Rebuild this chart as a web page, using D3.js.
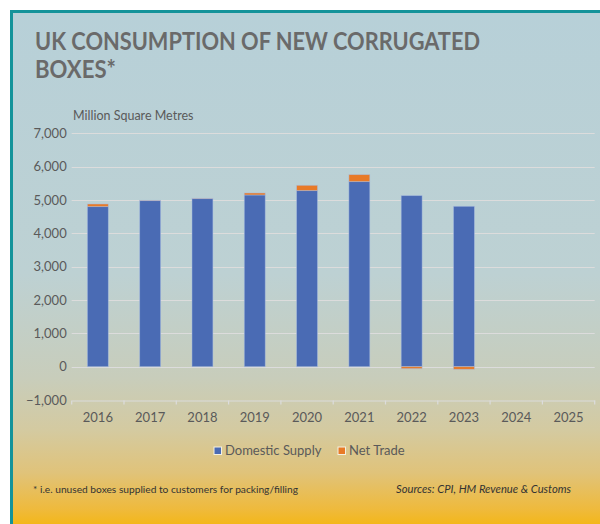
<!DOCTYPE html>
<html>
<head>
<meta charset="utf-8">
<script src="https://cdn.jsdelivr.net/npm/d3@7"></script>
<style>
  html, body { margin: 0; padding: 0; background: #ffffff; }
  svg { display: block; }
</style>
</head>
<body>
<svg id="chart" width="600" height="524"></svg>
<script>
// Years shown on the category axis (2024 and 2025 have no data yet)
const years = ["2016", "2017", "2018", "2019", "2020", "2021", "2022", "2023", "2024", "2025"];
// Million square metres
const domesticSupply = [4800, 4980, 5040, 5150, 5280, 5550, 5130, 4810, null, null];
const netTrade = [80, 10, 10, 60, 160, 210, -60, -80, null, null];
const seriesNames = ["Domestic Supply", "Net Trade"];
const seriesColors = ["#4a6bb4", "#e87a27"];
const yTicks = [-1000, 0, 1000, 2000, 3000, 4000, 5000, 6000, 7000];

const svg = d3.select("#chart");
const W = 600, H = 524;

// Panel background: blue-grey fading to amber
const defs = svg.append("defs");
const grad = defs.append("linearGradient").attr("id", "bg").attr("x1", 0).attr("y1", 0).attr("x2", 0).attr("y2", 1);
[[0, "#b7d0d8"], [0.5, "#bdd1d3"], [0.7, "#c8cdbb"], [0.8, "#d4caa0"], [0.88, "#e0c37a"], [0.95, "#efba3c"], [1, "#f7b500"]]
  .forEach(([o, c]) => grad.append("stop").attr("offset", o).attr("stop-color", c));

svg.append("rect").attr("x", 11.5).attr("y", 11.5).attr("width", W).attr("height", H)
  .attr("fill", "url(#bg)").attr("stroke", "#14939a").attr("stroke-width", 3);

// Title
const title = svg.append("g").attr("font-family", "Lato, 'Open Sans', sans-serif")
  .attr("font-weight", 700).attr("fill", "#6a6a6a").attr("font-size", 24);
title.append("text").attr("x", 35).attr("y", 50).attr("textLength", 445)
  .attr("lengthAdjust", "spacingAndGlyphs").text("UK CONSUMPTION OF NEW CORRUGATED");
title.append("text").attr("x", 35).attr("y", 77.5).attr("textLength", 81)
  .attr("lengthAdjust", "spacingAndGlyphs").text("BOXES*");

// Plot scales
const x = d3.scaleBand().domain(years).range([71.7, 594.7]).paddingInner(0.6).paddingOuter(0.3);
const y = d3.scaleLinear().domain([-1000, 7000]).range([400, 133.3]);

const font = "Lato, 'Open Sans', sans-serif";
const textCol = "#5a5a5a";

// Unit label
svg.append("text").attr("x", 73).attr("y", 119.5).attr("font-family", font)
  .attr("font-size", 12.5).attr("fill", textCol).text("Million Square Metres");

// Horizontal gridlines
svg.append("g").selectAll("line").data(yTicks.filter(t => t !== -1000)).join("line")
  .attr("x1", 71.7).attr("x2", 594.7)
  .attr("y1", d => Math.round(y(d)) + 0.5).attr("y2", d => Math.round(y(d)) + 0.5)
  .attr("stroke", "#dcdcdc").attr("stroke-width", 1.2);

// Y axis labels
const yAxis = d3.axisLeft(y).tickValues(yTicks).tickSize(0).tickPadding(5)
  .tickFormat(d3.format(","));
svg.append("g").attr("transform", "translate(71.7,0)").call(yAxis)
  .call(g => g.select(".domain").remove())
  .call(g => g.selectAll("text").attr("font-family", font).attr("font-size", 13).attr("fill", textCol));

// X axis at the bottom of the value range
const xAxis = d3.axisBottom(x).tickSize(0).tickPadding(12);
const xg = svg.append("g").attr("transform", `translate(0,${y(-1000) + 0.5})`).call(xAxis);
xg.select(".domain").attr("stroke", "#dcdcdc").attr("stroke-width", 1.2);
xg.selectAll("text").attr("font-family", font).attr("font-size", 13).attr("fill", textCol);
// Category boundary ticks
const step = x.step();
const bounds = d3.range(years.length + 1).map(i => 71.7 + i * step);
xg.append("g").selectAll("line").data(bounds).join("line")
  .attr("x1", d => d).attr("x2", d => d).attr("y1", 0).attr("y2", 4)
  .attr("stroke", "#dcdcdc").attr("stroke-width", 1.2);

// Stacked bars (negative net trade drawn below zero)
const rows = years.map((yr, i) => ({ year: yr, "Domestic Supply": domesticSupply[i], "Net Trade": netTrade[i] }))
  .filter(r => r["Domestic Supply"] !== null);
const stack = d3.stack().keys(seriesNames).offset(d3.stackOffsetDiverging);
const layers = stack(rows);

svg.append("g").selectAll("g").data(layers).join("g")
  .attr("fill", (d, i) => seriesColors[i])
  .selectAll("rect").data(d => d).join("rect")
  .attr("x", d => x(d.data.year))
  .attr("width", x.bandwidth())
  .attr("y", d => y(Math.max(d[0], d[1])))
  .attr("height", d => Math.abs(y(d[0]) - y(d[1])))
  .attr("stroke", "rgba(170,190,225,0.6)").attr("stroke-width", 0.8);

// Legend
const legend = svg.append("g").attr("font-family", font).attr("font-size", 13).attr("fill", textCol);
const legendItems = [{ x: 214, tx: 225 }, { x: 338, tx: 349 }];
seriesNames.forEach((name, i) => {
  legend.append("rect").attr("x", legendItems[i].x).attr("y", 447).attr("width", 7.5).attr("height", 7.5)
    .attr("fill", seriesColors[i]).attr("stroke", "#f4f0e0").attr("stroke-width", 1);
  legend.append("text").attr("x", legendItems[i].tx).attr("y", 455).text(name);
});

// Footnotes
svg.append("text").attr("x", 33).attr("y", 493).attr("font-family", font).attr("font-size", 10)
  .attr("fill", "#333").attr("textLength", 265).attr("lengthAdjust", "spacingAndGlyphs")
  .text("* i.e. unused boxes supplied to customers for packing/filling");
svg.append("text").attr("x", 396).attr("y", 493).attr("font-family", font)
  .attr("font-size", 10.5).attr("font-style", "italic").attr("fill", "#333")
  .attr("textLength", 175).attr("lengthAdjust", "spacingAndGlyphs")
  .text("Sources: CPI, HM Revenue & Customs");
</script>
</body>
</html>
